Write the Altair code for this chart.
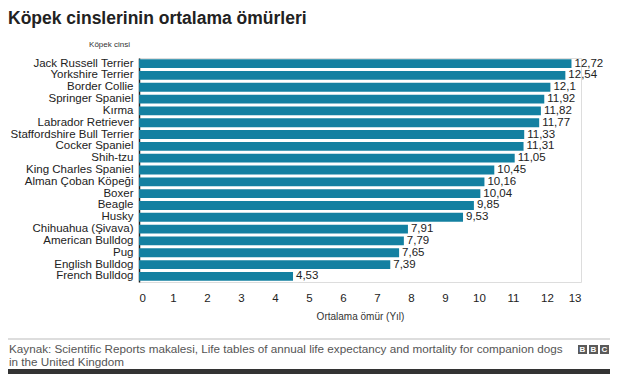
import altair as alt
import pandas as pd

breeds = [
    "Jack Russell Terrier", "Yorkshire Terrier", "Border Collie", "Springer Spaniel",
    "Kırma", "Labrador Retriever", "Staffordshire Bull Terrier", "Cocker Spaniel",
    "Shih-tzu", "King Charles Spaniel", "Alman Çoban Köpeği", "Boxer", "Beagle",
    "Husky", "Chihuahua (Şivava)", "American Bulldog", "Pug", "English Bulldog",
    "French Bulldog",
]
lifespans = [12.72, 12.54, 12.1, 11.92, 11.82, 11.77, 11.33, 11.31, 11.05, 10.45,
             10.16, 10.04, 9.85, 9.53, 7.91, 7.79, 7.65, 7.39, 4.53]
x_ticks = list(range(14))

title_text = "Köpek cinslerinin ortalama ömürleri"
source_line1 = ("Kaynak: Scientific Reports makalesi, Life tables of annual life expectancy "
                "and mortality for companion dogs")
source_line2 = "in the United Kingdom"
logo_letters = ["B", "B", "C"]

df = pd.DataFrame({
    "breed": breeds,
    "life": lifespans,
    "label": [str(v).replace(".", ",") for v in lifespans],
})

FONT = "Liberation Sans"
BAR = "#1380A1"

base = alt.Chart(df).encode(
    y=alt.Y(
        "breed:N",
        sort=breeds,
        scale=alt.Scale(paddingInner=0.25, paddingOuter=0.1),
        axis=alt.Axis(
            title="Köpek cinsi", titleAngle=0, titleX=-30, titleY=-14,
            titleAlign="center", titleBaseline="middle", titleFontSize=8,
            titleFontWeight="normal", titleColor="#333",
            labelFontSize=11.5, labelColor="#222", ticks=False, labelPadding=6,
            domainColor="#222", domainWidth=1.5,
        ),
    ),
    x=alt.X(
        "life:Q",
        scale=alt.Scale(domain=[0, 13], nice=False),
        axis=alt.Axis(
            values=x_ticks, format="d", title="Ortalama ömür (Yıl)",
            grid=False, domain=False, ticks=False, labelPadding=10,
            labelFontSize=11.5, labelColor="#222", titleFontSize=10,
            titleFontWeight="normal", titleColor="#333", titlePadding=8,
        ),
    ),
)

bars = base.mark_bar(color=BAR)
labels = base.mark_text(align="left", baseline="middle", dx=3, fontSize=11.5,
                        color="#222", font=FONT).encode(text="label:N")

one = alt.Data(values=[{"k": 1}])

title_mark = alt.Chart(one).mark_text(
    align="left", baseline="alphabetic", fontSize=17.5, fontWeight="bold",
    color="#222", font=FONT).encode(
    x=alt.value(-131), y=alt.value(-34), text=alt.value(title_text))

footer_line = alt.Chart(one).mark_rule(color="#bbbbbb", strokeWidth=1).encode(
    x=alt.value(-131), x2=alt.value(471), y=alt.value(281))
src1 = alt.Chart(one).mark_text(align="left", baseline="middle", fontSize=11.7,
                                color="#555", font=FONT).encode(
    x=alt.value(-130), y=alt.value(291), text=alt.value(source_line1))
src2 = alt.Chart(one).mark_text(align="left", baseline="middle", fontSize=11.7,
                                color="#555", font=FONT).encode(
    x=alt.value(-130), y=alt.value(304), text=alt.value(source_line2))
dark = alt.Chart(one).mark_rect(color="#333333").encode(
    x=alt.value(-131), x2=alt.value(471), y=alt.value(311), y2=alt.value(318))

logo_layers = []
for i, letter in enumerate(logo_letters):
    x0 = 439 + i * 11
    logo_layers.append(alt.Chart(one).mark_rect(color="#5a5a5a").encode(
        x=alt.value(x0), x2=alt.value(x0 + 9), y=alt.value(287), y2=alt.value(296)))
    logo_layers.append(alt.Chart(one).mark_text(
        align="center", baseline="middle", fontSize=8, fontWeight="bold",
        color="#ffffff", font=FONT).encode(
        x=alt.value(x0 + 4.5), y=alt.value(291.8), text=alt.value(letter)))

chart = alt.layer(bars, labels, title_mark, footer_line, src1, src2, dark,
                  *logo_layers).properties(
    width=442,
    height=224,
    padding={"left": 131, "top": 50, "right": 34, "bottom": 92},
    autosize=alt.AutoSizeParams(type="none"),
).configure_view(stroke=None).configure(font=FONT, background="#ffffff")

chart.save("out.html", embed_options={"renderer": "svg", "actions": False})
